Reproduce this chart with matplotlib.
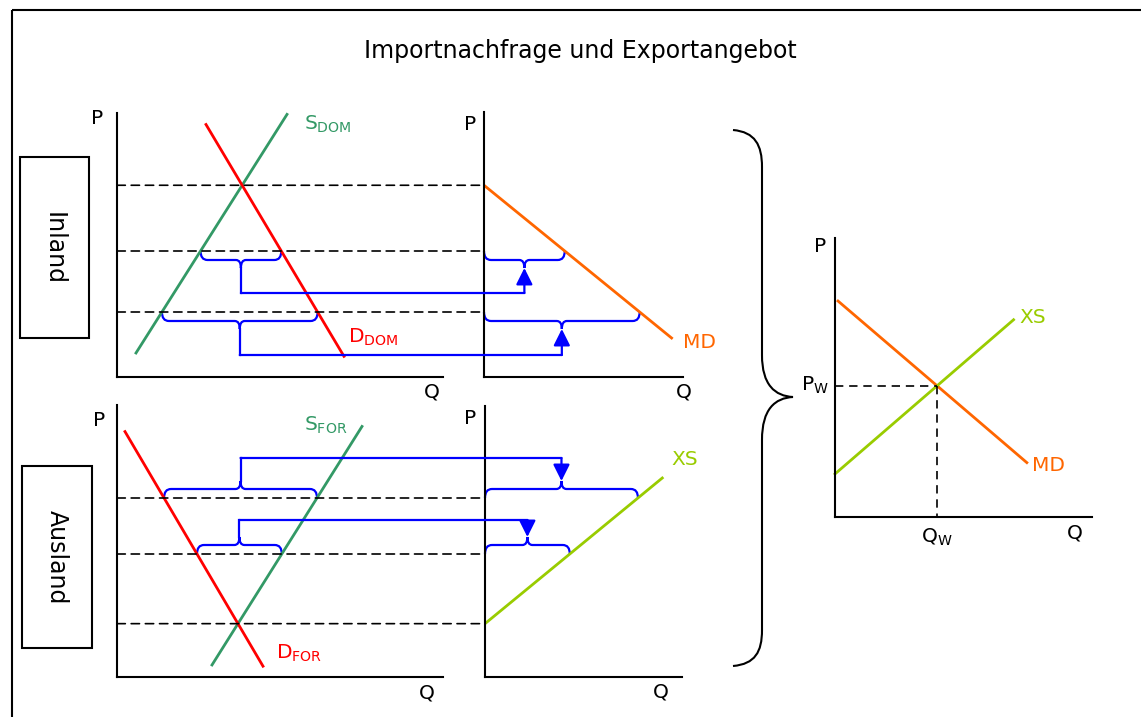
import numpy as np
import matplotlib
matplotlib.use("Agg")
import matplotlib.pyplot as plt
from matplotlib.patches import Rectangle, PathPatch, ConnectionPatch
from matplotlib.path import Path

plt.rcParams['font.family'] = ['DejaVu Sans']
plt.rcParams['mathtext.default'] = 'regular'

# Kurven als P = a + b*Q
s_dom = (-0.6, 1.58)
d_dom = (40.2, -1.68)
s_for = (-13.9, 1.59)
d_for = (25.9, -1.70)

# gezeichnete Bereiche (Q von, bis)
s_dom_q = [1.9, 17.0]
d_dom_q = [8.9, 22.7]
s_for_q = [9.5, 24.5]
d_for_q = [0.8, 14.6]
md_p_end = 3.9      # MD im Inlandsdiagramm bis zu diesem Preis
xs_p_end = 19.9     # XS im Auslandsdiagramm bis zu diesem Preis
world_md_q = [0.25, 15.9]
world_xs_q = [0.0, 14.8]

# Preise mit Klammern, Hoehe der blauen Verbindungslinien
p_dom = [12.6, 6.5]
conn_dom = [8.4, 2.2]
p_for = [17.9, 12.3]
conn_for = [21.9, 15.7]

BLUE = '#0000FF'
GREEN = '#339966'
RED = '#FF0000'
ORANGE = '#FF6600'
LIME = '#99CC00'
W, H = 1141, 717


def q_of(c, p):
    return (p - c[0]) / c[1]


def autarky(s, d):
    q = (d[0] - s[0]) / (s[1] - d[1])
    return s[0] + s[1] * q


def md(p):
    return q_of(d_dom, p) - q_of(s_dom, p)


def xs(p):
    return q_of(s_for, p) - q_of(d_for, p)


def p_from(f, q):
    # f ist linear in p
    b = f(1.0) - f(0.0)
    return (q - f(0.0)) / b


pa_dom = autarky(s_dom, d_dom)
pa_for = autarky(s_for, d_for)

fig = plt.figure(figsize=(W / 100, H / 100), dpi=100)
ax0 = fig.add_axes([0, 0, 1, 1])
ax0.set_xlim(0, W)
ax0.set_ylim(H, 0)
ax0.axis('off')

# Rahmen, Titel, Beschriftungskaesten
ax0.add_patch(Rectangle((12, 10), 1300, 900, fill=False, ec='black', lw=1.5))
ax0.text(580, 51, 'Importnachfrage und Exportangebot', ha='center', va='center', fontsize=17)
ax0.add_patch(Rectangle((20, 157), 69, 181, fill=False, ec='black', lw=1.5))
ax0.text(54, 248, 'Inland', rotation=-90, ha='center', va='center', fontsize=17)
ax0.add_patch(Rectangle((22, 466), 70, 182, fill=False, ec='black', lw=1.5))
ax0.text(57, 557, 'Ausland', rotation=-90, ha='center', va='center', fontsize=17)

# grosse geschweifte Klammer
big = Path([(733, 130), (755, 132), (762, 145), (762, 167), (762, 355),
            (762, 385), (775, 396), (793, 397), (775, 398), (762, 409), (762, 440),
            (762, 630), (762, 652), (755, 664), (733, 666)],
           [Path.MOVETO, Path.CURVE4, Path.CURVE4, Path.CURVE4, Path.LINETO,
            Path.CURVE4, Path.CURVE4, Path.CURVE4, Path.CURVE4, Path.CURVE4, Path.CURVE4,
            Path.LINETO, Path.CURVE4, Path.CURVE4, Path.CURVE4])
ax0.add_patch(PathPatch(big, fill=False, ec='black', lw=1.5))


def panel(x0, x1, yt, yb, xlim, ylim):
    ax = fig.add_axes([x0 / W, 1 - yb / H, (x1 - x0) / W, (yb - yt) / H])
    ax.set_xlim(*xlim)
    ax.set_ylim(*ylim)
    ax.patch.set_alpha(0)
    for s in ['top', 'right']:
        ax.spines[s].set_visible(False)
    for s in ['left', 'bottom']:
        ax.spines[s].set_linewidth(1.5)
    ax.set_xticks([])
    ax.set_yticks([])
    return ax


ax1 = panel(117, 443, 113, 377, (0, 32.6), (0, 26.4))
ax2 = panel(484, 683, 112, 377, (0, 19.9), (0, 26.5))
ax3 = panel(117, 443, 405, 677, (0, 32.6), (0, 27.2))
ax4 = panel(485, 682, 406, 677, (0, 19.7), (0, 27.1))
axw = panel(835, 1092, 238, 517, (0, 21.3), (1.94, 23.94))

for ax, pq in [(ax1, (-2.0, 25.9, 31.5, -1.5)), (ax2, (-1.4, 25.2, 20.0, -1.5)),
               (ax3, (-1.8, 25.7, 31.0, -1.6)), (ax4, (-1.5, 25.9, 17.6, -1.5))]:
    ax.text(pq[0], pq[1], 'P', ha='center', va='center', fontsize=14.5)
    ax.text(pq[2], pq[3], 'Q', ha='center', va='center', fontsize=14.5)


def line(ax, c, qs, color):
    qs = np.array(qs)
    ax.plot(qs, c[0] + c[1] * qs, color=color, lw=2, clip_on=False)


def dashed(axa, axb, pa, pb):
    fig.add_artist(ConnectionPatch(pa, pb, 'data', 'data', axesA=axa, axesB=axb,
                                   color='black', lw=1.2, ls=(0, (5, 3.5))))


def blue_link(axa, axb, pa, pb):
    fig.add_artist(ConnectionPatch(pa, pb, 'data', 'data', axesA=axa, axesB=axb,
                                   color=BLUE, lw=1.6))


def brace(ax, q0, q1, p, up, d=0.9, t=0.8, r=0.7, rt=0.5):
    s = 1 if up else -1
    qm = (q0 + q1) / 2
    yf = p + s * d
    yt = p + s * (d + t)
    verts = [(q0, p), (q0, yf), (q0 + r, yf), (qm - rt, yf), (qm, yf), (qm, yt),
             (qm, yf), (qm + rt, yf), (q1 - r, yf), (q1, yf), (q1, p)]
    codes = [Path.MOVETO, Path.CURVE3, Path.CURVE3, Path.LINETO, Path.CURVE3, Path.CURVE3,
             Path.CURVE3, Path.CURVE3, Path.LINETO, Path.CURVE3, Path.CURVE3]
    ax.add_patch(PathPatch(Path(verts, codes), fill=False, ec=BLUE, lw=1.6, clip_on=False))
    return qm, yt


def arrow(ax, q, p0, p1):
    ax.annotate('', xy=(q, p1), xytext=(q, p0),
                arrowprops=dict(arrowstyle='-|>,head_length=0.5,head_width=0.25',
                                mutation_scale=20, color=BLUE, lw=1.6,
                                shrinkA=0, shrinkB=0))


# Inland
for p in [pa_dom] + p_dom:
    dashed(ax1, ax2, (0, p), (0, p))
line(ax1, s_dom, s_dom_q, GREEN)
line(ax1, d_dom, d_dom_q, RED)
ax1.text(18.7, 24.7, '$S_{DOM}$', color=GREEN, fontsize=14.5)
ax1.text(23.1, 3.4, '$D_{DOM}$', color=RED, fontsize=14.5)
ps = np.array([pa_dom, md_p_end])
ax2.plot(md(ps), ps, color=ORANGE, lw=2)
ax2.text(19.9, 2.9, 'MD', color=ORANGE, fontsize=14.5)
for p, pc in zip(p_dom, conn_dom):
    qm1, tip1 = brace(ax1, q_of(s_dom, p), q_of(d_dom, p), p, up=False)
    qm2, tip2 = brace(ax2, 0, md(p), p, up=False)
    ax1.plot([qm1, qm1], [tip1, pc], color=BLUE, lw=1.6)
    blue_link(ax1, ax2, (qm1, pc), (qm2, pc))
    arrow(ax2, qm2, pc, tip2)

# Ausland
for p in [pa_for] + p_for:
    dashed(ax3, ax4, (0, p), (0, p))
line(ax3, s_for, s_for_q, GREEN)
line(ax3, d_for, d_for_q, RED)
ax3.text(18.7, 24.6, '$S_{FOR}$', color=GREEN, fontsize=14.5)
ax3.text(15.9, 1.8, '$D_{FOR}$', color=RED, fontsize=14.5)
ps = np.array([pa_for, xs_p_end])
ax4.plot(xs(ps), ps, color=LIME, lw=2)
ax4.text(18.6, 21.2, 'XS', color=LIME, fontsize=14.5)
for p, pc in zip(p_for, conn_for):
    qm3, tip3 = brace(ax3, q_of(d_for, p), q_of(s_for, p), p, up=True)
    qm4, tip4 = brace(ax4, 0, xs(p), p, up=True)
    ax3.plot([qm3, qm3], [tip3, pc], color=BLUE, lw=1.6)
    blue_link(ax3, ax4, (qm3, pc), (qm4, pc))
    arrow(ax4, qm4, pc, tip4)

# Weltmarkt
qs = np.array(world_md_q)
axw.plot(qs, p_from(md, qs), color=ORANGE, lw=2)
qs = np.array(world_xs_q)
axw.plot(qs, p_from(xs, qs), color=LIME, lw=2, clip_on=False)
pw = (md(0.0) - xs(0.0)) / ((xs(1.0) - xs(0.0)) - (md(1.0) - md(0.0)))
qw = md(pw)
axw.plot([0, qw], [pw, pw], color='black', lw=1.2, ls=(0, (5, 3.5)))
axw.plot([qw, qw], [pw, 1.94], color='black', lw=1.2, ls=(0, (5, 3.5)))
axw.text(-1.24, 23.3, 'P', ha='center', va='center', fontsize=14.5)
axw.text(19.9, 0.68, 'Q', ha='center', va='center', fontsize=14.5)
axw.text(-0.5, pw, '$P_W$', ha='right', va='center', fontsize=14.5)
axw.text(qw, 0.36, '$Q_W$', ha='center', va='center', fontsize=14.5)
axw.text(15.3, 17.2, 'XS', color=LIME, fontsize=14.5)
axw.text(16.3, 5.6, 'MD', color=ORANGE, fontsize=14.5)

fig.savefig('out.png', dpi=100)
